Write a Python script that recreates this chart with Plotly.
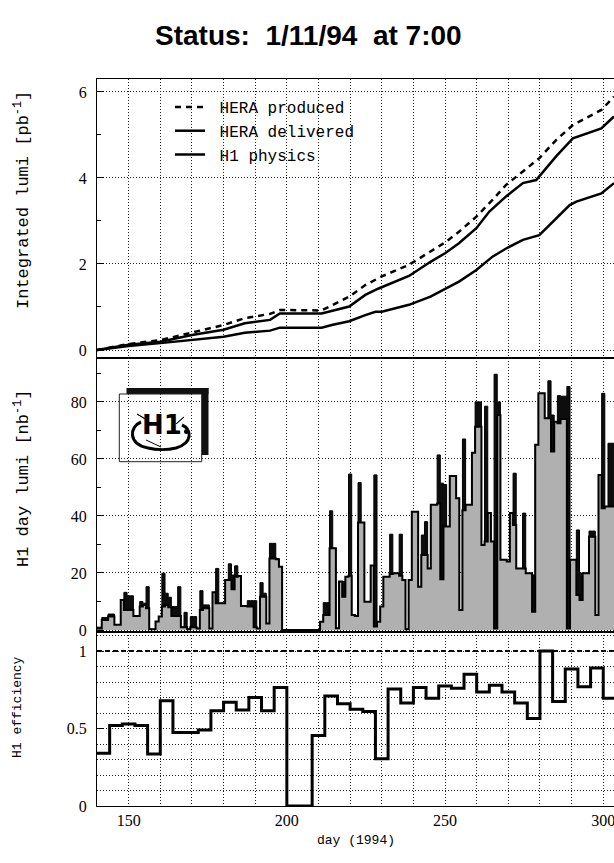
import plotly.graph_objects as go

# ---------------------------------------------------------------- data
# integrated luminosity [pb^-1] versus day of 1994
prod_days = [140, 150, 160, 170, 180, 186.7, 194.7, 197.8, 211, 219.7, 224.8, 230,
             238.6, 245.4, 250, 254.4, 259.9, 265, 269.3, 274.6, 279.8, 285.1, 290.4,
             299.4, 303.4]
prod_lumi = [0, 0.14, 0.23, 0.40, 0.58, 0.74, 0.84, 0.93, 0.92, 1.24, 1.51, 1.71,
             1.98, 2.29, 2.50, 2.75, 3.10, 3.49, 3.84, 4.15, 4.46, 4.88, 5.23,
             5.58, 5.89]

deliv_days = [140, 150, 160, 170, 180, 186.7, 194.7, 197.8, 211, 219.7, 224.8, 229,
              238.6, 245.4, 250, 254.4, 259.9, 264, 269.3, 274.6, 278.8, 285.1, 290.4,
              299.4, 303.4]
deliv_lumi = [0, 0.12, 0.19, 0.35, 0.47, 0.62, 0.70, 0.85, 0.85, 1.01, 1.28, 1.43,
              1.72, 2.05, 2.25, 2.48, 2.83, 3.22, 3.57, 3.88, 3.95, 4.50, 4.92,
              5.15, 5.43]

h1_days = [140, 150, 160, 170, 180, 186.7, 194.7, 197.8, 211, 214.2, 219.7, 224.8, 228,
           230, 238.6, 245.4, 250, 254.4, 259.9, 265, 269.3, 274.6, 279.8, 284.6, 289.4,
           291.5, 299.4, 303.4]
h1_lumi = [0, 0.09, 0.16, 0.23, 0.31, 0.40, 0.45, 0.52, 0.52, 0.58, 0.67, 0.81, 0.89,
           0.89, 1.05, 1.24, 1.41, 1.59, 1.86, 2.17, 2.36, 2.56, 2.67, 3.02, 3.37,
           3.45, 3.64, 3.88]

# daily luminosity [nb^-1], one value per day from day 140 to day 303
days = list(range(140, 304))
day_delivered = [
    1, 1, 4.4, 4.4, 5.6, 5.6, 1.8, 1.8, 10.5, 13.2,
    12, 12, 4.9, 4.9, 10, 9.4, 15.2, 0.3, 0.3, 3,
    4.7, 19.9, 12.9, 11.5, 8.2, 8.2, 15.2, 1, 6.2, 0.3,
    4.7, 4.7, 0.5, 13.8, 8.8, 8.8, 0.5, 13.2, 21.6, 9.4,
    9.4, 17.5, 23.2, 19.3, 22.5, 18.9, 8.4, 8.4, 10.3, 10.3,
    10.3, 0.5, 16.6, 12.9, 2.3, 30.4, 30.4, 25, 22.2, 0,
    0, 0, 0, 0, 0, 0, 0, 0, 0, 0,
    0, 2.9, 9.6, 9.6, 41.8, 28.7, 0.6, 17, 17, 18.7,
    54.7, 5.3, 4.9, 51.7, 37.7, 9.9, 9.9, 22.6, 54.4, 2.9,
    8.2, 18.7, 18.7, 33.6, 19.9, 19.9, 33.6, 17.5, 0.3, 17.5,
    41.5, 41.5, 15.2, 33.3, 38, 21.6, 43.9, 43.9, 61.4, 51.5,
    51, 36.3, 54, 54, 46.2, 7, 67, 43.9, 43.9, 62.2,
    80, 80, 29.8, 78.5, 41, 31, 89.7, 80, 24.6, 24.6,
    24, 41, 55, 21.6, 21.6, 41, 19.9, 19.9, 19.3, 65,
    83, 83, 74.3, 87.4, 75.4, 73, 82.2, 82, 82, 85.4,
    24.6, 24.6, 35.1, 19.9, 19.9, 19.9, 34.7, 34.7, 5.3, 54.4,
    83, 43.3, 65.5, 65.5,
]
day_h1 = [
    0.5, 0.5, 3.5, 3.5, 4.7, 4.7, 1.8, 1.8, 10.5, 7,
    7, 7, 4.9, 4.9, 8.2, 8.8, 7.6, 0.3, 0.3, 3,
    4.7, 8.2, 8.8, 8, 4.9, 4.9, 4.9, 1, 1, 0.3,
    1, 1, 0.5, 7, 7.6, 7.6, 0.5, 13.2, 9.4, 9.4,
    9.4, 17.5, 17.5, 14.3, 18.7, 18.9, 8.4, 8.4, 8.2, 8.2,
    1, 0.5, 11.7, 11.7, 2.3, 25.1, 25.1, 24.8, 22.2, 0,
    0, 0, 0, 0, 0, 0, 0, 0, 0, 0,
    0, 2.9, 5.3, 5.3, 28.7, 28.7, 0.6, 17, 11.7, 18.7,
    19, 5.3, 4.9, 37.7, 37.7, 9.9, 9.9, 22.6, 1.2, 2.9,
    8.2, 18.7, 18.7, 19.6, 19.9, 19.9, 19, 17.5, 0.3, 17.5,
    41.5, 41.5, 15.2, 26.3, 26.3, 21.6, 43.9, 43.9, 44.4, 17.8,
    36.3, 36.3, 54, 54, 46.2, 7, 42, 43.9, 43.9, 62.2,
    71.3, 71.3, 29.8, 31, 41, 31, 0.5, 75.4, 24.6, 24.6,
    24, 41, 36.8, 21.6, 21.6, 21.6, 19.9, 19.9, 6.4, 65,
    83, 83, 74.3, 74.3, 62.6, 73, 72.5, 74, 74, 0.5,
    24.6, 24.6, 12.3, 10.5, 19.9, 19.9, 32.7, 32.7, 5.3, 54.4,
    42.7, 43.3, 43.3, 43.3,
]

# H1 efficiency in 4-day bins (bin start days)
eff_start = [140, 144, 148, 152, 156, 160, 164, 168, 172, 176, 180, 184, 188, 192,
             196, 200, 204, 208, 212, 216, 220, 224, 228, 232, 236, 240, 244, 248,
             252, 256, 260, 264, 268, 272, 276, 280, 284, 288, 292, 296, 300]
eff_end = 304
efficiency = [0.34, 0.52, 0.53, 0.52, 0.335, 0.68, 0.475, 0.475, 0.49, 0.615,
              0.67, 0.62, 0.70, 0.615, 0.765, 0.0, 0.0, 0.455, 0.71, 0.66,
              0.625, 0.61, 0.305, 0.755, 0.665, 0.765, 0.695, 0.775, 0.76, 0.85,
              0.735, 0.78, 0.735, 0.665, 0.565, 1.0, 0.675, 0.885, 0.77, 0.89,
              0.695]
eff_reference = 1.0

x_ticks = [150, 200, 250, 300]

# ---------------------------------------------------------------- layout helpers
W_FIG, H_FIG = 614, 863
L, R, T, B = 97, 614, 79, 806
PW, PH = R - L, B - T


def px(x):
    return (x - L) / PW


def py(y):
    return (B - y) / PH


MONO = "Liberation Mono, Courier New, monospace"
SERIF = "Liberation Serif, Times New Roman, serif"
SANS = "Liberation Sans, Arial, sans-serif"
GRID = dict(gridcolor="#222222", gridwidth=1, griddash="1px,2px")
XRANGE = [140, 303.4]

dom_top = [py(358), 1.0]
dom_mid = [py(632), py(358)]
dom_bot = [0.0, py(632)]


def make_x(anchor, labels):
    return dict(
        domain=[0, 1], anchor=anchor, range=XRANGE,
        tickmode="array", tickvals=x_ticks, showticklabels=labels, ticks="",
        ticklabeloverflow="allow",
        showgrid=True, **GRID,
        minor=dict(tick0=140, dtick=10, showgrid=True, **GRID),
        showline=True, linecolor="black", linewidth=1.2, mirror=True,
        zeroline=False,
        tickfont=dict(family=SERIF, size=16, color="black"),
    )


def make_y(anchor, dom, rng, dtick, minor):
    return dict(
        domain=dom, anchor=anchor, range=rng, tick0=0, dtick=dtick,
        ticks="inside", ticklen=7, tickwidth=1.2, tickcolor="black",
        showgrid=True, **GRID, minor=minor,
        showline=True, linecolor="black", linewidth=1.2, mirror=True,
        zeroline=False, ticklabelstandoff=6,
        tickfont=dict(family=SERIF, size=16, color="black"),
    )


def step_xy(starts, vals, end):
    return list(starts) + [end], list(vals) + [vals[-1]]


fig = go.Figure()

# ---------------------------------------------------------------- top panel
fig.add_trace(go.Scatter(x=prod_days, y=prod_lumi, mode="lines", name=" HERA produced",
                         line=dict(color="black", width=2.5, dash="6px,5px"),
                         xaxis="x", yaxis="y"))
fig.add_trace(go.Scatter(x=deliv_days, y=deliv_lumi, mode="lines", name=" HERA delivered",
                         line=dict(color="black", width=2.5), xaxis="x", yaxis="y"))
fig.add_trace(go.Scatter(x=h1_days, y=h1_lumi, mode="lines", name=" H1 physics",
                         line=dict(color="black", width=2.5), xaxis="x", yaxis="y"))

# ---------------------------------------------------------------- middle panel
left_edges = [d - 0.5 for d in days]
xs, ys = step_xy(left_edges, day_delivered, days[-1] + 0.5)
fig.add_trace(go.Scatter(x=xs, y=ys, mode="lines", line_shape="hv",
                         line=dict(color="black", width=1), fill="tozeroy",
                         fillcolor="#0d0d0d", showlegend=False,
                         xaxis="x2", yaxis="y2"))
xs, ys = step_xy(left_edges, day_h1, days[-1] + 0.5)
fig.add_trace(go.Scatter(x=xs, y=ys, mode="lines", line_shape="hv",
                         line=dict(color="black", width=2), fill="tozeroy",
                         fillcolor="#b0b0b0",
                         showlegend=False, xaxis="x2", yaxis="y2"))

# ---------------------------------------------------------------- bottom panel
xs, ys = step_xy(eff_start, efficiency, eff_end)
fig.add_trace(go.Scatter(x=xs, y=ys, mode="lines", line_shape="hv",
                         line=dict(color="black", width=3), showlegend=False,
                         xaxis="x3", yaxis="y3"))

shapes = [
    dict(type="line", xref="x3", yref="y3", x0=XRANGE[0], x1=XRANGE[1],
         y0=eff_reference, y1=eff_reference, layer="below",
         line=dict(color="black", width=2, dash="5px,3px")),
]

# H1 logo: framed box with drop shadow, looping arrows and the letters
shapes += [
    dict(type="rect", xref="paper", yref="paper", x0=px(126.5), x1=px(208.5),
         y0=py(394), y1=py(388), fillcolor="#111", line=dict(width=0)),
    dict(type="rect", xref="paper", yref="paper", x0=px(201.7), x1=px(208.5),
         y0=py(455), y1=py(388), fillcolor="#111", line=dict(width=0)),
    dict(type="rect", xref="paper", yref="paper", x0=px(119.3), x1=px(201.7),
         y0=py(461.7), y1=py(394), line=dict(color="#222", width=1)),
]


def path(points, close=False):
    s = ""
    for cmd, pts in points:
        s += cmd + " ".join(f"{px(a):.5f},{py(b):.5f}" for a, b in pts) + " "
    return s + ("Z" if close else "")


loop = path([("M", [(141, 422)]),
             ("C", [(129, 427), (128, 444), (148, 448)]),
             ("C", [(156, 450), (168, 450), (176, 448)]),
             ("C", [(193, 443), (192, 429), (182, 425)])])
shapes.append(dict(type="path", xref="paper", yref="paper", path=loop,
                   line=dict(color="black", width=3)))
shapes.append(dict(type="path", xref="paper", yref="paper",
                   path=path([("M", [(137, 414)]), ("L", [(147, 420), (138, 426)])], True),
                   fillcolor="black", line=dict(color="black", width=1)))
shapes.append(dict(type="path", xref="paper", yref="paper",
                   path=path([("M", [(184, 417)]), ("L", [(176, 424), (186, 428)])], True),
                   fillcolor="black", line=dict(color="black", width=1)))
shapes.append(dict(type="path", xref="paper", yref="paper",
                   path=path([("M", [(146, 440)]), ("L", [(161, 447), (176, 440)])]),
                   line=dict(color="black", width=1)))
shapes.append(dict(type="circle", xref="paper", yref="paper",
                   x0=px(184), x1=px(189), y0=py(434), y1=py(429),
                   fillcolor="black", line=dict(width=0)))

annotations = [
    dict(text="<b>Status:\u00a0 1/11/94\u00a0 at 7:00</b>", x=px(308), y=py(36),
         font=dict(family=SANS, size=28, color="black")),
    dict(text="Integrated lumi [pb<sup>-1</sup>]", x=px(22), y=py(200), textangle=-90,
         font=dict(family=MONO, size=17, color="black")),
    dict(text="H1 day lumi [nb<sup>-1</sup>]", x=px(22), y=py(478), textangle=-90,
         font=dict(family=MONO, size=17, color="black")),
    dict(text="H1 efficiency", x=px(17), y=py(707), textangle=-90,
         font=dict(family=MONO, size=13, color="black")),
    dict(text="day (1994)", x=px(356), y=py(840),
         font=dict(family=MONO, size=13, color="black")),
    dict(text="<b>H1</b>", x=px(162), y=py(425),
         font=dict(family="DejaVu Sans, sans-serif", size=26, color="black")),
]
for a in annotations:
    a.update(xref="paper", yref="paper", showarrow=False,
             xanchor="center", yanchor="middle")

fig.update_layout(
    width=W_FIG, height=H_FIG,
    margin=dict(l=L, r=W_FIG - R, t=T, b=H_FIG - B, pad=0),
    paper_bgcolor="white", plot_bgcolor="white",
    xaxis=make_x("y", False),
    xaxis2=make_x("y2", False),
    xaxis3=make_x("y3", True),
    yaxis=make_y("x", dom_top, [-0.186, 6.30], 2,
                 dict(tick0=0, dtick=1, ticks="inside", ticklen=4, tickcolor="black",
                      showgrid=False)),
    yaxis2=make_y("x2", dom_mid, [-0.7, 95.4], 20,
                  dict(tick0=0, dtick=10, ticks="inside", ticklen=4, tickcolor="black",
                       showgrid=False)),
    yaxis3=make_y("x3", dom_bot, [0, 1.123], 0.5,
                  dict(tick0=0, dtick=0.1, ticks="", showgrid=True, **GRID)),
    showlegend=True,
    legend=dict(x=px(170), y=py(90), xanchor="left", yanchor="top",
                bgcolor="rgba(0,0,0,0)", borderwidth=0, tracegroupgap=0,
                font=dict(family=MONO, size=16, color="black")),
    shapes=shapes,
    annotations=annotations,
)

fig.write_html("out.html")
